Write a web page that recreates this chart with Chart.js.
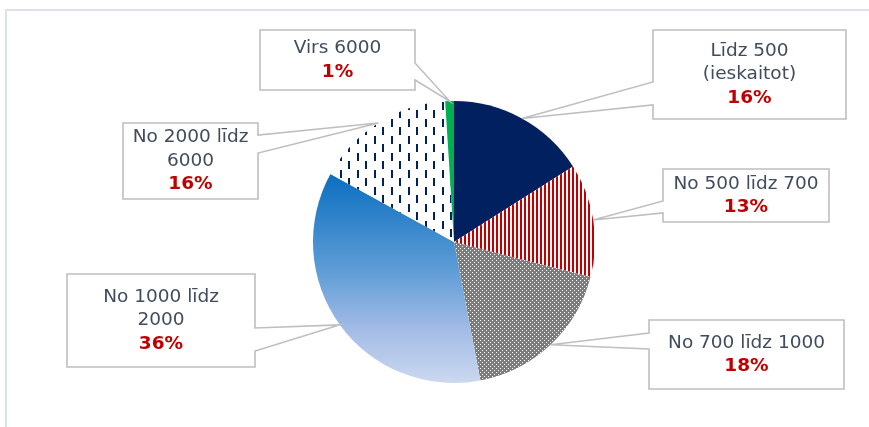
<!DOCTYPE html>
<html><head><meta charset="utf-8">
<script src="https://cdn.jsdelivr.net/npm/chart.js@4.4.1/dist/chart.umd.min.js"></script>
<style>html,body{margin:0;padding:0;background:#fff;overflow:hidden}#wrap{width:869px;height:427px;position:relative}</style>
</head><body><div id="wrap"><canvas id="c" width="869" height="427"></canvas></div>
<script>
// ---- data ----
const categories = ['Līdz 500 (ieskaitot)', 'No 500 līdz 700', 'No 700 līdz 1000', 'No 1000 līdz 2000', 'No 2000 līdz 6000', 'Virs 6000'];
const categoryLines = [['Līdz 500', '(ieskaitot)'], ['No 500 līdz 700'], ['No 700 līdz 1000'], ['No 1000 līdz', '2000'], ['No 2000 līdz', '6000'], ['Virs 6000']];
const shares = [16, 13, 18, 36, 16, 1];
const percentLabels = ['16%', '13%', '18%', '36%', '16%', '1%'];

// ---- label layout (box relative to pie centre) ----
const calloutLayout = [
  {dx: 199, dy: -212, w: 193, h: 89, side: 'left', b1: 52, b2: 75},
  {dx: 209, dy: -73, w: 166, h: 53, side: 'left', b1: 32, b2: 44},
  {dx: 195, dy: 78, w: 195, h: 69, side: 'left', b1: 13, b2: 29},
  {dx: -387, dy: 32, w: 188, h: 93, side: 'right', b1: 54, b2: 77},
  {dx: -331, dy: -119, w: 135, h: 76, side: 'right', b1: 12, b2: 30},
  {dx: -194, dy: -212, w: 155, h: 60, side: 'right', b1: 33, b2: 50}
];

// ---- fills ----
function makePattern(w, h, draw) {
  const c = document.createElement('canvas');
  c.width = w; c.height = h;
  const g = c.getContext('2d');
  draw(g);
  return g.createPattern(c, 'repeat');
}
const redStripes = makePattern(4, 4, g => {
  g.fillStyle = '#ffffff'; g.fillRect(0, 0, 4, 4);
  g.fillStyle = '#c00000'; g.fillRect(0, 0, 2, 4);
});
const grayDots = makePattern(4, 4, g => {
  g.fillStyle = '#7c7c7c'; g.fillRect(0, 0, 4, 4);
  g.fillStyle = '#ffffff'; g.fillRect(0, 0, 1, 1); g.fillRect(2, 2, 1, 1);
});
const navyDashes = makePattern(17, 17, g => {
  g.fillStyle = '#ffffff'; g.fillRect(0, 0, 17, 17);
  g.fillStyle = '#002060'; g.fillRect(0, 0, 2, 8); g.fillRect(8, 8, 2, 8);
});
function blueGradient(context) {
  const ch = context.chart, a = ch.chartArea;
  if (!a) return '#5b9bd5';
  const cy = (a.top + a.bottom) / 2, r = Math.min(a.right - a.left, a.bottom - a.top) / 2;
  const g = ch.ctx.createLinearGradient(0, cy - 0.49 * r, 0, cy + r);
  g.addColorStop(0, '#0a6ec0');
  g.addColorStop(0.45, '#5b9bd5');
  g.addColorStop(0.75, '#a4bce6');
  g.addColorStop(1, '#cbd8ef');
  return g;
}
const fills = [() => '#002060', () => redStripes, () => grayDots, blueGradient, () => navyDashes, () => '#00b050'];

// ---- plugins ----
const framePlugin = {
  id: 'frame',
  beforeDraw(chart) {
    const g = chart.ctx;
    g.save();
    g.strokeStyle = '#dde2e9';
    g.lineWidth = 2;
    g.strokeRect(6, 10, 1000, 1000);
    g.restore();
  }
};
const calloutPlugin = {
  id: 'callouts',
  afterDatasetsDraw(chart) {
    const g = chart.ctx;
    const meta = chart.getDatasetMeta(0);
    const fontMain = '18.5px "DejaVu Sans", Verdana, sans-serif';
    const fontBold = 'bold 18.5px "DejaVu Sans", Verdana, sans-serif';
    const lh = 23.5;
    meta.data.forEach((arc, i) => {
      const p = arc.getProps(['x', 'y', 'startAngle', 'endAngle', 'outerRadius'], true);
      const mid = (p.startAngle + p.endAngle) / 2;
      const tx = p.x + Math.cos(mid) * p.outerRadius;
      const ty = p.y + Math.sin(mid) * p.outerRadius;
      const L = calloutLayout[i];
      const x0 = p.x + L.dx, y0 = p.y + L.dy, x1 = x0 + L.w, y1 = y0 + L.h;
      g.save();
      g.beginPath();
      if (L.side === 'left') {
        g.moveTo(x0, y0); g.lineTo(x1, y0); g.lineTo(x1, y1); g.lineTo(x0, y1);
        g.lineTo(x0, y0 + L.b2); g.lineTo(tx, ty); g.lineTo(x0, y0 + L.b1);
      } else {
        g.moveTo(x0, y0); g.lineTo(x1, y0); g.lineTo(x1, y0 + L.b1); g.lineTo(tx, ty);
        g.lineTo(x1, y0 + L.b2); g.lineTo(x1, y1); g.lineTo(x0, y1);
      }
      g.closePath();
      g.fillStyle = '#ffffff';
      g.fill();
      g.strokeStyle = '#bfbfbf';
      g.lineWidth = 1.6;
      g.lineJoin = 'miter';
      g.stroke();
      const lines = categoryLines[i];
      const n = lines.length + 1;
      const cx = (x0 + x1) / 2;
      let yy = (y0 + y1) / 2 - (n - 1) * lh / 2;
      g.textAlign = 'center';
      g.textBaseline = 'middle';
      g.fillStyle = '#404c5e';
      g.font = fontMain;
      lines.forEach(t => { g.fillText(t, cx, yy); yy += lh; });
      g.fillStyle = '#c00000';
      g.font = fontBold;
      g.fillText(percentLabels[i], cx, yy);
      g.restore();
    });
  }
};

new Chart(document.getElementById('c'), {
  type: 'pie',
  data: {
    labels: categories,
    datasets: [{
      data: shares,
      backgroundColor: c => fills[c.dataIndex](c),
      borderWidth: 0
    }]
  },
  options: {
    responsive: false,
    animation: false,
    events: [],
    layout: {padding: {left: 39, right: 0, top: 101, bottom: 44}},
    plugins: {legend: {display: false}, tooltip: {enabled: false}}
  },
  plugins: [framePlugin, calloutPlugin]
});
</script>
</body></html>
